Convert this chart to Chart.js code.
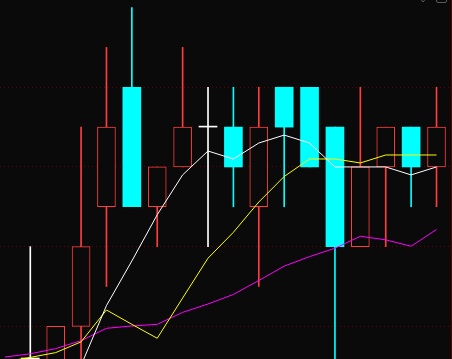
<!DOCTYPE html>
<html>
<head>
<meta charset="utf-8">
<script src="https://cdn.jsdelivr.net/npm/chart.js@4/dist/chart.umd.min.js"></script>
<style>
    html, body { margin: 0; padding: 0; background: #0a0a0a; }
    #wrap { width: 452px; height: 359px; }
</style>
</head>
<body>
<div id="wrap"><canvas id="kChart"></canvas></div>
<script>
// Bougies (index 0 = hors champ, sous le bas du graphique)
const days = [0, 1, 2, 3, 4, 5, 6, 7, 8, 9, 10, 11, 12, 13, 14, 15, 16, 17];
const openP  = [4.478, 4.482, 4.487, 4.50, 4.53, 4.56, 4.53, 4.54, 4.55, 4.55, 4.53, 4.56, 4.56, 4.55, 4.52, 4.54, 4.55, 4.54];
const highP  = [4.481, 4.52, 4.50, 4.55, 4.57, 4.58, 4.54, 4.57, 4.56, 4.56, 4.56, 4.56, 4.56, 4.55, 4.56, 4.55, 4.55, 4.56];
const lowP   = [4.470, 4.476, 4.484, 4.488, 4.51, 4.53, 4.52, 4.54, 4.52, 4.53, 4.51, 4.53, 4.54, 4.48, 4.52, 4.52, 4.53, 4.53];
const closeP = [4.474, 4.482, 4.50, 4.52, 4.55, 4.53, 4.54, 4.55, 4.55, 4.54, 4.55, 4.55, 4.54, 4.52, 4.54, 4.55, 4.54, 4.55];

// Moyennes mobiles
const ma5  = [4.465, 4.466, 4.4762, 4.4902, 4.5052, 4.5164, 4.528, 4.538, 4.544, 4.542, 4.546, 4.548, 4.546, 4.54, 4.54, 4.54, 4.538, 4.54];
const ma10 = [4.4911, 4.4922, 4.4934, 4.4961, 4.5041, 4.5005, 4.497, 4.5071, 4.5171, 4.5236, 4.5312, 4.5376, 4.542, 4.542, 4.541, 4.543, 4.543, 4.543];
const ma20 = [4.4923, 4.4931, 4.4944, 4.4964, 4.4995, 4.5001, 4.5005, 4.5035, 4.5056, 4.508, 4.5115, 4.5151, 4.5175, 4.5196, 4.5226, 4.5217, 4.5201, 4.5243];

// Niveaux de la grille pointillée
const gridLevels = [4.50, 4.52, 4.54, 4.56];

const UP = '#ff3d3d', DOWN = '#00ffff', FLAT = '#ffffff', BG = '#0a0a0a';

function candleColor(i) {
    if (closeP[i] > openP[i]) return UP;
    if (closeP[i] < openP[i]) return DOWN;
    return FLAT;
}

const bodyData = days.map((d, i) => ({ x: d, y: [openP[i], closeP[i]] }));
const wickData = days.map((d, i) => ({ x: d, y: [lowP[i], highP[i]] }));
const lineData = arr => days.map((d, i) => ({ x: d, y: arr[i] }));

const bgPlugin = {
    id: 'bg',
    beforeDraw(chart) {
        const c = chart.ctx;
        c.save();
        c.fillStyle = BG;
        c.fillRect(0, 0, chart.width, chart.height);
        c.restore();
    },
    afterDraw(chart) {
        const c = chart.ctx;
        c.save();
        // bord droit du panneau
        c.fillStyle = '#5c0000';
        c.fillRect(451, 0, 1, chart.height);
        // petites icônes en haut à droite
        c.strokeStyle = '#5a5a5a';
        c.lineWidth = 1;
        c.beginPath();
        c.moveTo(420.5, -1);
        c.lineTo(423, 2);
        c.lineTo(425.5, -1);
        c.stroke();
        c.beginPath();
        c.moveTo(436.5, -3);
        c.lineTo(436.5, 1);
        c.quadraticCurveTo(436.5, 2.5, 438, 2.5);
        c.lineTo(445, 2.5);
        c.quadraticCurveTo(446.5, 2.5, 446.5, 1);
        c.lineTo(446.5, -3);
        c.stroke();
        c.restore();
    }
};

new Chart(document.getElementById('kChart'), {
    type: 'bar',
    data: {
        datasets: [
            {
                type: 'line', label: 'MA5', data: lineData(ma5), order: 0,
                borderColor: '#ffffff', borderWidth: 1, pointRadius: 0, tension: 0
            },
            {
                type: 'line', label: 'MA10', data: lineData(ma10), order: 1,
                borderColor: '#ffff00', borderWidth: 1, pointRadius: 0, tension: 0
            },
            {
                type: 'line', label: 'MA20', data: lineData(ma20), order: 2,
                borderColor: '#ff00ff', borderWidth: 1, pointRadius: 0, tension: 0
            },
            {
                label: 'corps', data: bodyData, order: 3, grouped: false,
                barThickness: 18, minBarLength: 1,
                backgroundColor: days.map((d, i) => candleColor(i) === UP ? BG : candleColor(i)),
                borderColor: days.map((d, i) => candleColor(i)),
                borderWidth: days.map((d, i) => candleColor(i) === UP ? 1 : 0),
                borderSkipped: false
            },
            {
                label: 'mèches', data: wickData, order: 4, grouped: false,
                barThickness: 1,
                backgroundColor: days.map((d, i) => candleColor(i)),
                borderWidth: 0
            }
        ]
    },
    options: {
        responsive: true,
        maintainAspectRatio: false,
        animation: false,
        layout: { padding: 0 },
        plugins: {
            legend: { display: false },
            tooltip: { enabled: false }
        },
        scales: {
            x: {
                type: 'linear',
                min: -0.193,
                max: 17.61,
                offset: false,
                display: false,
                grid: { offset: false }
            },
            y: {
                min: 4.4918,
                max: 4.5819,
                afterBuildTicks: axis => {
                    axis.ticks = gridLevels.map(v => ({ value: v }));
                },
                ticks: { display: false },
                border: { display: false, dash: [1, 3] },
                grid: {
                    color: '#650000',
                    lineWidth: 1,
                    drawTicks: false,
                    tickLength: 0
                }
            }
        }
    },
    plugins: [bgPlugin]
});
</script>
</body>
</html>
